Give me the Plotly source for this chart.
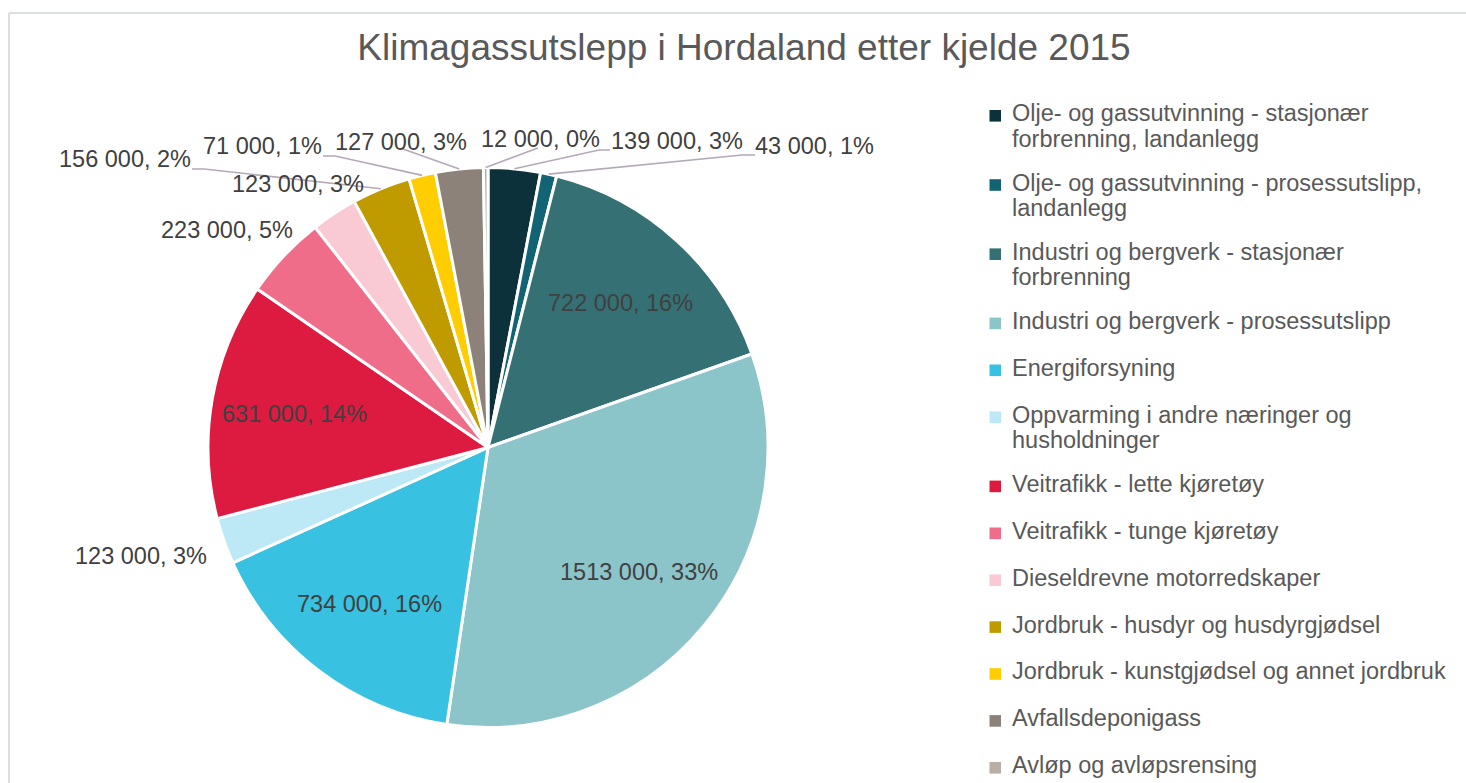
import math
import plotly.graph_objects as go

# ---------------- data ----------------
categories = [
    "Olje- og gassutvinning - stasjonær forbrenning, landanlegg",
    "Olje- og gassutvinning - prosessutslipp, landanlegg",
    "Industri og bergverk - stasjonær forbrenning",
    "Industri og bergverk - prosessutslipp",
    "Energiforsyning",
    "Oppvarming i andre næringer og husholdninger",
    "Veitrafikk - lette kjøretøy",
    "Veitrafikk - tunge kjøretøy",
    "Dieseldrevne motorredskaper",
    "Jordbruk - husdyr og husdyrgjødsel",
    "Jordbruk - kunstgjødsel og annet jordbruk",
    "Avfallsdeponigass",
    "Avløp og avløpsrensing",
]
legend_lines = [
    ["Olje- og gassutvinning - stasjonær", "forbrenning, landanlegg"],
    ["Olje- og gassutvinning - prosessutslipp,", "landanlegg"],
    ["Industri og bergverk - stasjonær", "forbrenning"],
    ["Industri og bergverk - prosessutslipp"],
    ["Energiforsyning"],
    ["Oppvarming i andre næringer og", "husholdninger"],
    ["Veitrafikk - lette kjøretøy"],
    ["Veitrafikk - tunge kjøretøy"],
    ["Dieseldrevne motorredskaper"],
    ["Jordbruk - husdyr og husdyrgjødsel"],
    ["Jordbruk - kunstgjødsel og annet jordbruk"],
    ["Avfallsdeponigass"],
    ["Avløp og avløpsrensing"],
]
emissions = [139000, 43000, 722000, 1513000, 734000, 123000, 631000,
             223000, 123000, 156000, 71000, 127000, 12000]
label_texts = ["139 000, 3%", "43 000, 1%", "722 000, 16%", "1513 000, 33%",
               "734 000, 16%", "123 000, 3%", "631 000, 14%", "223 000, 5%",
               "123 000, 3%", "156 000, 2%", "71 000, 1%", "127 000, 3%",
               "12 000, 0%"]
title_text = "Klimagassutslepp i Hordaland etter kjelde 2015"

# ---------------- styles / layout ----------------
colors = ["#0c313a", "#126475", "#357174", "#8bc4c9", "#38c1e1", "#bce9f5",
          "#dd1a40", "#f06d8a", "#f9c9d4", "#bf9b00", "#ffcd00", "#8c8279",
          "#b9ada5"]
W, H = 1466, 783
FONT = "Liberation Sans, Arial, sans-serif"
CX, CY, R = 488.0, 447.5, 280.0


def paper(x, y):
    return x / W, 1 - y / H


# label placement: None -> inside at 0.7R of mid angle; else (cx, cy, leader anchor pts)
label_place = [
    (677, 141, [(610, 150), (599, 150)]),
    (814, 146, [(755, 155), (742, 155)]),
    None,
    None,
    None,
    (141, 556, []),
    None,
    (227, 230, []),
    (298, 184, []),
    (125, 159, [(192, 169), (204, 169)]),
    (262, 146, [(323, 156), (335, 156)]),
    (401, 142, [(403, 149)]),
    (540, 139, [(538, 148)]),
]

fig = go.Figure()
fig.add_trace(go.Pie(
    labels=categories,
    values=emissions,
    sort=False,
    direction="clockwise",
    rotation=0,
    marker=dict(colors=colors, line=dict(color="white", width=3)),
    textinfo="none",
    hoverinfo="label+value+percent",
    showlegend=False,
    domain=dict(x=[(CX - R) / W, (CX + R) / W],
                y=[1 - (CY + R) / H, 1 - (CY - R) / H]),
))

annotations = []
shapes = []
total = float(sum(emissions))
cum = 0.0
for i, v in enumerate(emissions):
    mid = (cum + v / 2.0) / total * 2 * math.pi
    cum += v
    place = label_place[i]
    if place is None:
        r = 0.7 * R
        lx, ly = CX + r * math.sin(mid), CY - r * math.cos(mid)
        pts = []
    else:
        lx, ly, pts = place
    ax_, ay_ = paper(lx, ly)
    annotations.append(dict(
        x=ax_, y=ay_, xref="paper", yref="paper", text=label_texts[i],
        showarrow=False, xanchor="center", yanchor="middle",
        font=dict(family=FONT, size=23.5, color="#404040")))
    if pts:
        ex, ey = CX + R * math.sin(mid), CY - R * math.cos(mid)
        allpts = list(pts) + [(ex, ey)]
        path = ""
        for k, (px, py) in enumerate(allpts):
            qx, qy = paper(px, py)
            path += ("M" if k == 0 else " L") + f" {qx:.5f},{qy:.5f}"
        shapes.append(dict(type="path", xref="paper", yref="paper", path=path,
                           line=dict(color="#b5a9b9", width=1.6)))

# manual legend
y = 113.3
for i, lines in enumerate(legend_lines):
    sx0, sy0 = paper(989.5, y + 2.5 - 5.8)
    sx1, sy1 = paper(1001.0, y + 2.5 + 5.8)
    shapes.append(dict(type="rect", xref="paper", yref="paper",
                       x0=sx0, x1=sx1, y0=sy1, y1=sy0,
                       fillcolor=colors[i], line=dict(width=0)))
    for j, line in enumerate(lines):
        tx, ty = paper(1010, y + j * 25.5)
        annotations.append(dict(
            x=tx, y=ty, xref="paper", yref="paper", text=line,
            showarrow=False, xanchor="left", yanchor="middle",
            font=dict(family=FONT, size=23.5, color="#595959")))
    y += 46.9 + (len(lines) - 1) * 22.3

# chart frame
fx0, fy0 = paper(9, 13)
shapes.append(dict(type="line", xref="paper", yref="paper",
                   x0=fx0, x1=1.0, y0=fy0, y1=fy0,
                   line=dict(color="#dcdce3", width=2)))
shapes.append(dict(type="line", xref="paper", yref="paper",
                   x0=fx0, x1=fx0, y0=fy0, y1=0.0,
                   line=dict(color="#dcdce3", width=2)))

tx, ty = paper(744, 47)
fig.update_layout(
    width=W, height=H,
    margin=dict(l=0, r=0, t=0, b=0),
    paper_bgcolor="white", plot_bgcolor="white",
    title=dict(text=title_text, x=tx, y=ty, xanchor="center", yanchor="middle",
               xref="paper", yref="paper",
               font=dict(family=FONT, size=37, color="#595959")),
    annotations=annotations,
    shapes=shapes,
    showlegend=False,
)

fig.write_html("out.html",
               config={"displayModeBar": False},
               post_script="document.body.style.margin='0';"
                           "document.body.style.overflow='hidden';")
